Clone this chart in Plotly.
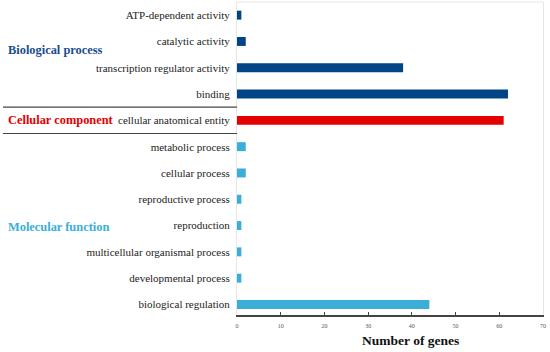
import plotly.graph_objects as go

categories = [
    "ATP-dependent activity",
    "catalytic activity",
    "transcription regulator activity",
    "binding",
    "cellular anatomical entity",
    "metabolic process",
    "cellular process",
    "reproductive process",
    "reproduction",
    "multicellular organismal process",
    "developmental process",
    "biological regulation",
]
values = [1, 2, 38, 62, 61, 2, 2, 1, 1, 1, 1, 44]
groups = ["bp"] * 4 + ["cc"] + ["mf"] * 7
group_colors = {"bp": "#004585", "cc": "#e30000", "mf": "#3aaed8"}
group_labels = [("Biological process", 1.33, "#1a4d8f"),
                ("Cellular component", 4, "#e30000"),
                ("Molecular function", 8.05, "#3aaed8")]
x_ticks = [0, 10, 20, 30, 40, 50, 60, 70]
x_title = "Number of genes"

W, H = 550, 352
L, R, T, B = 237, 7, 2, 37
pw = W - L - R
ph = H - T - B

fig = go.Figure()
fig.add_trace(go.Bar(
    x=values, y=list(range(len(categories))), orientation="h",
    marker=dict(color=[group_colors[g] for g in groups], line=dict(width=0)),
    width=0.34, hoverinfo="x+y",
))

serif = "Liberation Serif"

fig.update_layout(
    width=W, height=H,
    margin=dict(l=L, r=R, t=T, b=B),
    paper_bgcolor="white", plot_bgcolor="white",
    showlegend=False,
    font=dict(family=serif, color="#222222"),
    xaxis=dict(
        range=[0, 70], tickvals=x_ticks, ticktext=[str(v) for v in x_ticks],
        ticks="inside", ticklen=3, tickcolor="#444444", tickwidth=1,
        showline=True, linecolor="#444444", linewidth=1.5,
        showgrid=False, zeroline=False, automargin=False,
        ticklabelstandoff=4,
        tickfont=dict(size=6, color="#555555", family=serif),
    ),
    yaxis=dict(
        range=[11.4, -0.5],
        tickvals=list(range(len(categories))), ticktext=categories,
        showline=True, linecolor="#e6e6e6", linewidth=1, mirror=True,
        showgrid=False, zeroline=False, ticks="", ticklabelstandoff=4,
        automargin=False,
        tickfont=dict(size=11, color="#222222", family=serif),
    ),
)

# light top border of plot area
fig.add_shape(type="line", xref="paper", yref="paper", x0=0, x1=1, y0=1, y1=1,
              line=dict(color="#e6e6e6", width=1))

# separator lines between groups
x0p = (3 - L) / pw
for yv in (3.5, 4.5):
    fig.add_shape(type="line", xref="paper", yref="y", x0=x0p, x1=0, y0=yv, y1=yv,
                  line=dict(color="#444444", width=1.2))

for text, yv, col in group_labels:
    fig.add_annotation(text=f"<b>{text}</b>", xref="paper", yref="y",
                       x=(6 - L) / pw, y=yv, xanchor="left", yanchor="middle",
                       showarrow=False, font=dict(size=12.4, color=col, family=serif))

# x-axis title (offset to the right as in the reference)
fig.add_annotation(text=f"<b>{x_title}</b>", xref="paper", yref="paper",
                   x=(410 - L) / pw, y=(H - B - 340) / ph, xanchor="center", yanchor="middle",
                   showarrow=False, font=dict(size=13.5, color="#111111", family=serif))

fig.write_html("out.html", post_script="document.body.style.margin='0';",
               config={"displayModeBar": False})
